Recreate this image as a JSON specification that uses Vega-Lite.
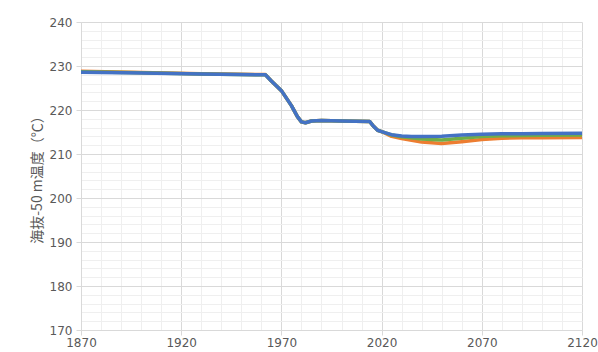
{
  "$schema": "https://vega.github.io/schema/vega-lite/v6.json",
  "width": 501,
  "height": 308,
  "autosize": "none",
  "padding": {"left": 81, "top": 22, "right": 16, "bottom": 22},
  "background": "white",
  "config": {"view": {"stroke": null}},
  "data": {"values": [
    {"s":"s1","year":1870,"v":228.8},{"s":"s1","year":1900,"v":228.5},{"s":"s1","year":1930,"v":228.25},{"s":"s1","year":1962,"v":228.05},{"s":"s1","year":1965,"v":226.6},{"s":"s1","year":1970,"v":224.4},{"s":"s1","year":1975,"v":221.0},{"s":"s1","year":1978,"v":218.5},{"s":"s1","year":1980,"v":217.3},{"s":"s1","year":1982,"v":217.1},{"s":"s1","year":1985,"v":217.5},{"s":"s1","year":1990,"v":217.6},{"s":"s1","year":2000,"v":217.5},{"s":"s1","year":2014,"v":217.4},{"s":"s1","year":2016,"v":216.3},{"s":"s1","year":2018,"v":215.4},{"s":"s1","year":2020,"v":215.1},{"s":"s1","year":2022,"v":214.7},{"s":"s1","year":2025,"v":214.0},{"s":"s1","year":2030,"v":213.5},{"s":"s1","year":2040,"v":212.7},{"s":"s1","year":2050,"v":212.4},{"s":"s1","year":2060,"v":212.8},{"s":"s1","year":2070,"v":213.3},{"s":"s1","year":2080,"v":213.6},{"s":"s1","year":2090,"v":213.7},{"s":"s1","year":2100,"v":213.7},{"s":"s1","year":2120,"v":213.75},
    {"s":"s2","year":1870,"v":228.7},{"s":"s2","year":1900,"v":228.45},{"s":"s2","year":1930,"v":228.2},{"s":"s2","year":1962,"v":228.0},{"s":"s2","year":1965,"v":226.6},{"s":"s2","year":1970,"v":224.4},{"s":"s2","year":1975,"v":221.0},{"s":"s2","year":1978,"v":218.5},{"s":"s2","year":1980,"v":217.3},{"s":"s2","year":1982,"v":217.1},{"s":"s2","year":1985,"v":217.5},{"s":"s2","year":1990,"v":217.6},{"s":"s2","year":2000,"v":217.5},{"s":"s2","year":2014,"v":217.4},{"s":"s2","year":2016,"v":216.3},{"s":"s2","year":2018,"v":215.4},{"s":"s2","year":2020,"v":215.1},{"s":"s2","year":2022,"v":214.8},{"s":"s2","year":2025,"v":214.3},{"s":"s2","year":2030,"v":213.9},{"s":"s2","year":2040,"v":213.4},{"s":"s2","year":2050,"v":213.2},{"s":"s2","year":2060,"v":213.6},{"s":"s2","year":2070,"v":214.0},{"s":"s2","year":2080,"v":214.15},{"s":"s2","year":2090,"v":214.2},{"s":"s2","year":2100,"v":214.25},{"s":"s2","year":2120,"v":214.3},
    {"s":"s3","year":1870,"v":228.6},{"s":"s3","year":1900,"v":228.4},{"s":"s3","year":1930,"v":228.2},{"s":"s3","year":1962,"v":228.0},{"s":"s3","year":1965,"v":226.6},{"s":"s3","year":1970,"v":224.4},{"s":"s3","year":1975,"v":221.0},{"s":"s3","year":1978,"v":218.5},{"s":"s3","year":1980,"v":217.3},{"s":"s3","year":1982,"v":217.1},{"s":"s3","year":1985,"v":217.5},{"s":"s3","year":1990,"v":217.6},{"s":"s3","year":2000,"v":217.5},{"s":"s3","year":2014,"v":217.4},{"s":"s3","year":2016,"v":216.3},{"s":"s3","year":2018,"v":215.4},{"s":"s3","year":2020,"v":215.1},{"s":"s3","year":2022,"v":214.8},{"s":"s3","year":2025,"v":214.4},{"s":"s3","year":2030,"v":214.1},{"s":"s3","year":2035,"v":214.0},{"s":"s3","year":2040,"v":213.95},{"s":"s3","year":2050,"v":214.05},{"s":"s3","year":2060,"v":214.3},{"s":"s3","year":2070,"v":214.5},{"s":"s3","year":2080,"v":214.6},{"s":"s3","year":2090,"v":214.6},{"s":"s3","year":2100,"v":214.65},{"s":"s3","year":2120,"v":214.7}
  ]},
  "mark": {"type": "line", "strokeWidth": 3.5, "strokeJoin": "round", "strokeCap": "round", "clip": true},
  "encoding": {
    "x": {
      "field": "year", "type": "quantitative",
      "scale": {"domain": [1870, 2120], "nice": false, "zero": false},
      "axis": {
        "title": null,
        "values": [1870,1880,1890,1900,1910,1920,1930,1940,1950,1960,1970,1980,1990,2000,2010,2020,2030,2040,2050,2060,2070,2080,2090,2100,2110,2120],
        "labelExpr": "(datum.value - 1870) % 50 === 0 ? '' + datum.value : ''",
        "labelFont": "DejaVu Sans", "labelFontSize": 12, "labelColor": "#595959",
        "labelPadding": 2, "labelFlush": false, "labelOverlap": false,
        "domainColor": "#d9d9d9",
        "tickColor": "#d9d9d9",
        "tickOpacity": {"condition": {"test": "(datum.value - 1870) % 50 === 0", "value": 1}, "value": 0},
        "tickSize": 5,
        "gridColor": {"condition": {"test": "(datum.value - 1870) % 50 === 0", "value": "#d9d9d9"}, "value": "#efefef"},
        "gridWidth": 1
      }
    },
    "y": {
      "field": "v", "type": "quantitative",
      "scale": {"domain": [170, 240], "nice": false, "zero": false},
      "axis": {
        "title": "海抜-50 m温度（℃）",
        "titleFont": "Noto Sans CJK JP", "titleFontSize": 14, "titleFontWeight": "normal", "titleColor": "#595959",
        "titlePadding": 5,
        "values": [170,172,174,176,178,180,182,184,186,188,190,192,194,196,198,200,202,204,206,208,210,212,214,216,218,220,222,224,226,228,230,232,234,236,238,240],
        "labelExpr": "datum.value % 10 === 0 ? '' + datum.value : ''",
        "labelFont": "DejaVu Sans", "labelFontSize": 12, "labelColor": "#595959",
        "labelPadding": 4, "labelOverlap": false,
        "domainColor": "#d9d9d9",
        "tickColor": "#d9d9d9",
        "tickOpacity": {"condition": {"test": "datum.value % 10 === 0", "value": 1}, "value": 0},
        "tickSize": 5,
        "gridColor": {"condition": {"test": "datum.value % 10 === 0", "value": "#d9d9d9"}, "value": "#efefef"},
        "gridWidth": 1
      }
    },
    "color": {
      "field": "s", "type": "nominal",
      "scale": {"domain": ["s1","s2","s3"], "range": ["#ED7D31","#70AD47","#4472C4"]},
      "legend": null
    },
    "order": {"field": "year", "type": "quantitative"}
  }
}
